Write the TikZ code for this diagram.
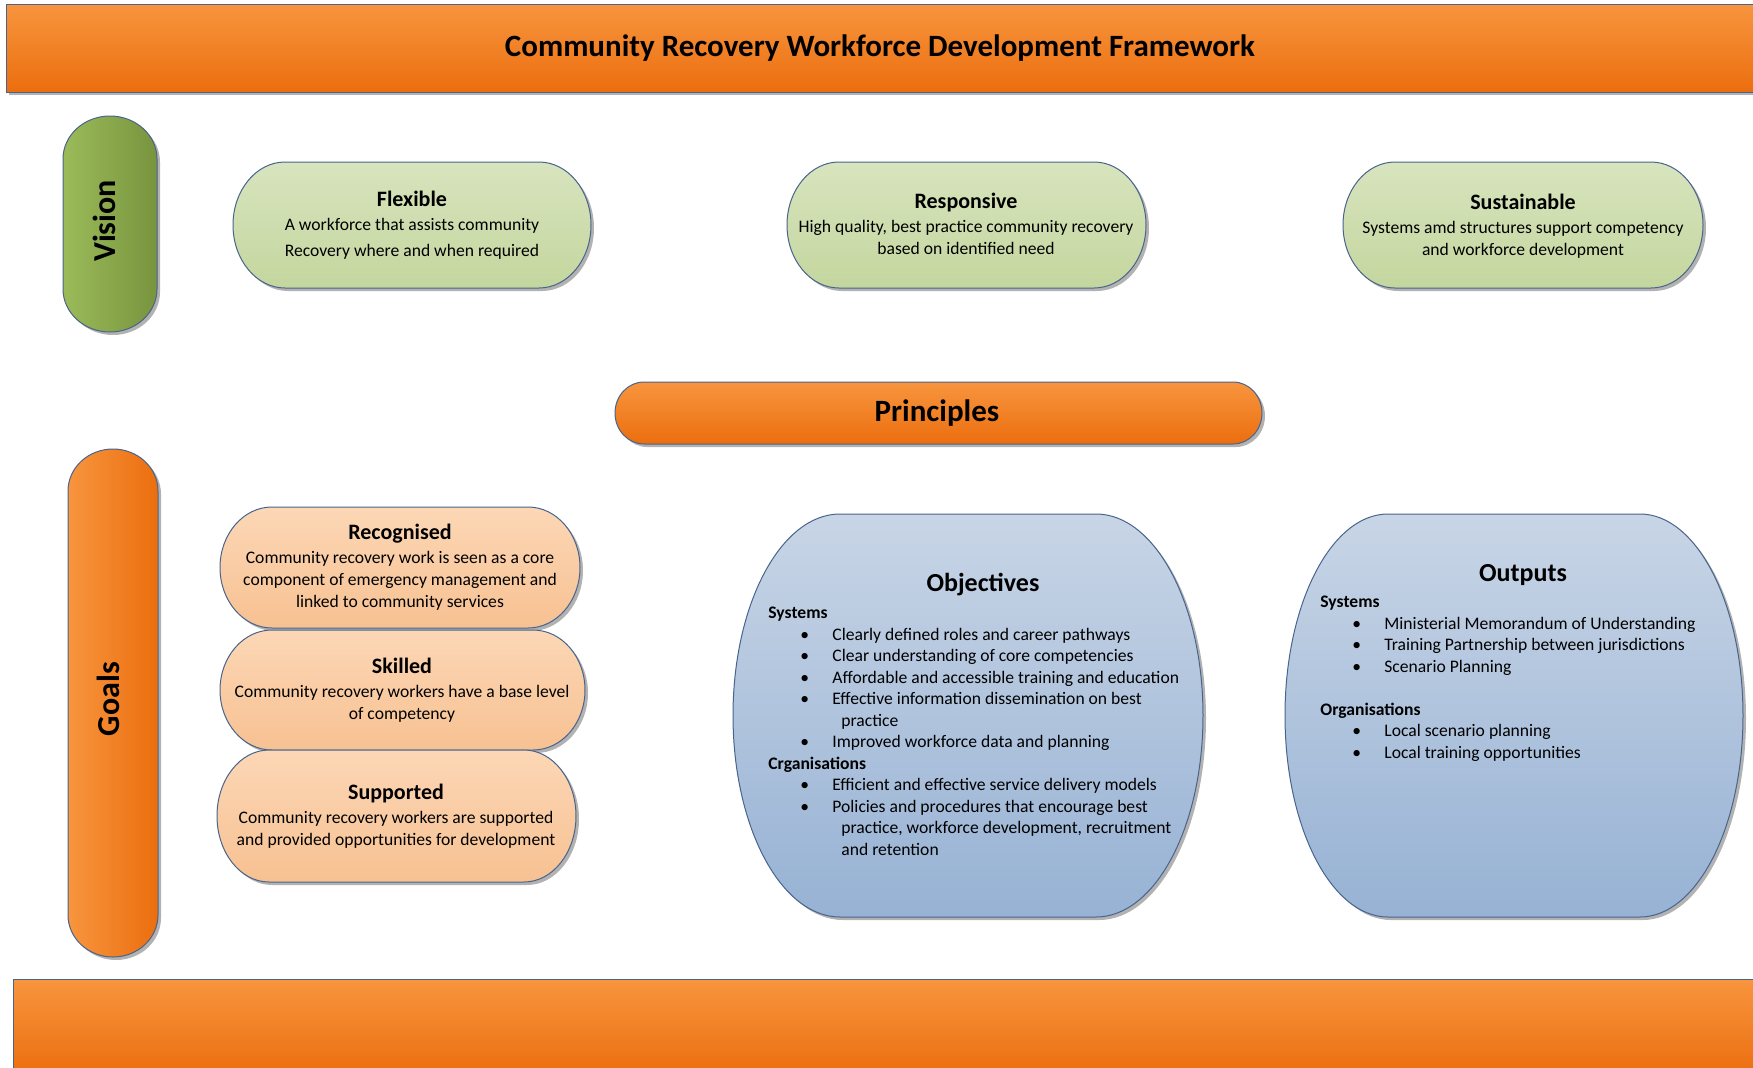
\documentclass[tikz,border=0pt]{standalone}
\usepackage{fontspec}
\setmainfont{Carlito}
\usepackage{tikz}

\definecolor{edgeblue}{RGB}{72,100,140}
\definecolor{orangetop}{RGB}{248,149,62}
\definecolor{orangebot}{RGB}{235,110,14}
\definecolor{visionleft}{RGB}{155,187,89}
\definecolor{visionright}{RGB}{120,148,62}
\definecolor{greentop}{RGB}{216,228,190}
\definecolor{greenbot}{RGB}{196,214,158}
\definecolor{peachtop}{RGB}{252,215,182}
\definecolor{peachbot}{RGB}{247,193,146}
\definecolor{bluetop}{RGB}{200,213,230}
\definecolor{bluebot}{RGB}{151,178,212}
\definecolor{shadowgray}{RGB}{178,178,178}

\newcommand{\bodyfont}{\fontsize{8.8}{11}\selectfont}
\newcommand{\headfont}{\fontsize{11}{13}\selectfont\bfseries}
\newcommand{\listfont}{\fontsize{8.8}{10.75}\selectfont}
\newcommand{\listbullet}{\hspace*{16pt}\makebox[16pt][l]{\textbullet}}
\newcommand{\listcont}{\hspace*{36.5pt}}

% box with elliptic ends: style, x1, y1, x2, y2, rx, ry
\newcommand{\capsule}[7]{%
  \pgfmathsetmacro{\capxa}{#2+#6}%
  \pgfmathsetmacro{\capxb}{#4-#6}%
  \pgfmathsetmacro{\capya}{#3+#7}%
  \pgfmathsetmacro{\capyb}{#5-#7}%
  \pgfmathsetmacro{\capkx}{0.4477*#6}%
  \pgfmathsetmacro{\capky}{0.4477*#7}%
  \def\cappath{(\capxa,#3) -- (\capxb,#3)
    .. controls (#4-\capkx,#3) and (#4,#3+\capky) .. (#4,\capya)
    -- (#4,\capyb)
    .. controls (#4,#5-\capky) and (#4-\capkx,#5) .. (\capxb,#5)
    -- (\capxa,#5)
    .. controls (#2+\capkx,#5) and (#2,#5-\capky) .. (#2,\capyb)
    -- (#2,\capya)
    .. controls (#2,#3+\capky) and (#2+\capkx,#3) .. (\capxa,#3) -- cycle}%
  \fill[shadowgray, shift={(3,3)}] \cappath;
  \path[#1] \cappath;
}

\begin{document}
\begin{tikzpicture}[
            x = 0.5pt, % one unit is one pixel of the sketch
            y = -0.5pt, % y runs downwards
            every node/.style = {text = black, inner sep = 0pt}
        ]

        \tikzstyle{banner}=[top color = orangetop, bottom color = orangebot, draw = edgeblue, line width = 0.5pt]
        \tikzstyle{orangepill}=[banner]
        \tikzstyle{vertorange}=[left color = orangetop, right color = orangebot, draw = edgeblue, line width = 0.5pt]
        \tikzstyle{vertgreen}=[left color = visionleft, right color = visionright, draw = edgeblue, line width = 0.5pt]
        \tikzstyle{greenpill}=[top color = greentop, bottom color = greenbot, draw = edgeblue, line width = 0.5pt]
        \tikzstyle{peachpill}=[top color = peachtop, bottom color = peachbot, draw = edgeblue, line width = 0.5pt]
        \tikzstyle{blueblob}=[top color = bluetop, bottom color = bluebot, draw = edgeblue, line width = 0.5pt]
        \tikzstyle{bigtext}=[font = \fontsize{15.5}{18}\selectfont\bfseries]
        \tikzstyle{sidetext}=[font = \fontsize{16}{18}\selectfont\bfseries, rotate = 90]
        \tikzstyle{pilltext}=[align = center, font = \bodyfont]
        \tikzstyle{blobhead}=[font = \fontsize{13}{15}\selectfont\bfseries]
        \tikzstyle{listtext}=[align = left, font = \listfont, anchor = north west]

        \useasboundingbox (0,0) rectangle (1753,1067);

        % top and bottom banners
        \fill[shadowgray] (9,7) rectangle (1760,95);
        \path[banner] (6,4) rectangle (1760,92);
        \node[bigtext] (title) at (880,48) {Community Recovery Workforce Development Framework};
        \path[banner] (13,979) rectangle (1760,1075);

        % vision
        \capsule{vertgreen}{63}{116}{157}{332}{47}{43}
        \node[sidetext] (vision) at (104,221) {Vision};

        \capsule{greenpill}{233}{162}{591}{288}{52}{63}
        \node[pilltext] (flexible) at (412,225) {{\headfont Flexible}\\[1pt]
            A workforce that assists community\\[2pt]
            Recovery where and when required};

        \capsule{greenpill}{787}{162}{1146}{288}{52}{63}
        \node[pilltext] (responsive) at (966,224) {{\headfont Responsive}\\[1pt]
            High quality, best practice community recovery\\
            based on identified need};

        \capsule{greenpill}{1343}{162}{1703}{288}{52}{63}
        \node[pilltext] (sustainable) at (1523,226) {{\headfont Sustainable}\\[1pt]
            Systems amd structures support competency\\
            and workforce development};

        % principles
        \capsule{orangepill}{615}{382}{1262}{444}{29}{31}
        \node[bigtext] (principles) at (937,413) {Principles};

        % goals
        \capsule{vertorange}{68}{449}{158}{957}{45}{42}
        \node[sidetext] (goals) at (108,699) {Goals};

        \capsule{peachpill}{220}{507}{580}{628}{52}{60.5}
        \node[pilltext] (recognised) at (400,567) {{\headfont Recognised}\\[1pt]
            Community recovery work is seen as a core\\
            component of emergency management and\\
            linked to community services};

        \capsule{peachpill}{220}{630}{585}{750}{52}{60}
        \node[pilltext] (skilled) at (402,690) {{\headfont Skilled}\\[1pt]
            Community recovery workers have a base level\\
            of competency};

        \capsule{peachpill}{217}{750}{576}{882}{52}{66}
        \node[pilltext] (supported) at (396,816) {{\headfont Supported}\\[1pt]
            Community recovery workers are supported\\
            and provided opportunities for development};

        % objectives and outputs
        \capsule{blueblob}{733}{514}{1203}{917}{107}{201.5}
        \node[blobhead] (objectives) at (983,585) {Objectives};
        \node[listtext] (objlist) at (768,607) {{\bfseries Systems}\\
            \listbullet Clearly defined roles and career pathways\\
            \listbullet Clear understanding of core competencies\\
            \listbullet Affordable and accessible training and education\\
            \listbullet Effective information dissemination on best\\
            \listcont practice\\
            \listbullet Improved workforce data and planning\\
            {\bfseries Crganisations}\\
            \listbullet Efficient and effective service delivery models\\
            \listbullet Policies and procedures that encourage best\\
            \listcont practice, workforce development, recruitment\\
            \listcont and retention};

        \capsule{blueblob}{1285}{514}{1743}{917}{103}{201.5}
        \node[blobhead] (outputs) at (1523,575) {Outputs};
        \node[listtext] (outlist) at (1320,596) {{\bfseries Systems}\\
            \listbullet Ministerial Memorandum of Understanding\\
            \listbullet Training Partnership between jurisdictions\\
            \listbullet Scenario Planning\\[10.75pt]
            {\bfseries Organisations}\\
            \listbullet Local scenario planning\\
            \listbullet Local training opportunities};

    \end{tikzpicture}
\end{document}
